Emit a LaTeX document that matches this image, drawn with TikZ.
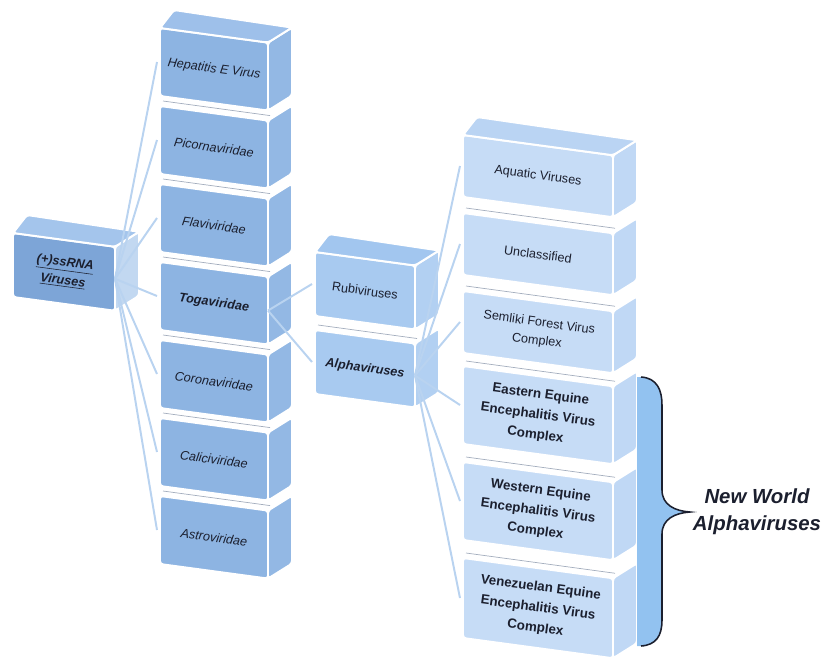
\documentclass[tikz,border=0pt]{standalone}
\usepackage{fontspec}
\setmainfont{Liberation Sans}
\usepackage{tikz}
\usetikzlibrary{calc}

\definecolor{rtfront}{HTML}{7DA5D7}
\definecolor{rttop}{HTML}{A4C5EC}
\definecolor{rtside}{HTML}{C2D8F1}
\definecolor{dkfront}{HTML}{8DB4E2}
\definecolor{dktop}{HTML}{9EC0EA}
\definecolor{dkside}{HTML}{93B8E4}
\definecolor{mdfront}{HTML}{A8CAF0}
\definecolor{mdtop}{HTML}{A2C6EF}
\definecolor{mdside}{HTML}{B2D0F2}
\definecolor{ltfront}{HTML}{C6DCF6}
\definecolor{lttop}{HTML}{BAD4F3}
\definecolor{ltside}{HTML}{C0D8F5}
\definecolor{linkblue}{HTML}{B9D3F0}
\definecolor{seamgrey}{HTML}{A3ADBD}
\definecolor{bracefill}{HTML}{92C2F0}
\definecolor{ink}{HTML}{1B1F2E}

\tikzset{
  face/.style={draw=white, line width=1.4pt, line join=round, rounded corners=2pt},
  rt front/.style={face, fill=rtfront}, rt top/.style={face, fill=rttop}, rt side/.style={face, fill=rtside},
  dk front/.style={face, fill=dkfront}, dk top/.style={face, fill=dktop}, dk side/.style={face, fill=dkside},
  md front/.style={face, fill=mdfront}, md top/.style={face, fill=mdtop}, md side/.style={face, fill=mdside},
  lt front/.style={face, fill=ltfront}, lt top/.style={face, fill=lttop}, lt side/.style={face, fill=ltside},
  boxtext/.style={text=ink, align=center, rotate=-7.7, inner sep=1pt},
  famtext/.style={boxtext, font=\fontsize{9}{13}\selectfont\itshape},
  keytext/.style={boxtext, font=\fontsize{9}{13}\selectfont\bfseries\itshape},
  plaintext/.style={boxtext, font=\fontsize{9}{13}\selectfont},
  complextext/.style={boxtext, font=\fontsize{9.5}{14.5}\selectfont\bfseries},
  link/.style={draw=linkblue, line width=1.4pt},
  seam/.style={draw=seamgrey, line width=0.5pt},
}

% box with a front face and a right side face
% #1 name, #2 x, #3 y, #4 width, #5 height, #6 palette, #7 text style, #8 text
\newcommand{\virusbox}[8]{%
  \pgfmathsetmacro{\boxdrop}{0.135*#4}
  \coordinate (#1-a) at (#2,#3);
  \coordinate (#1-b) at (#2+#4,#3+\boxdrop);
  \coordinate (#1-c) at (#2+#4,#3+#5+\boxdrop);
  \coordinate (#1-d) at (#2,#3+#5);
  \path[#6 side] (#1-b) -- ++(24,-15) -- ($(#1-c)+(24,-15)$) -- (#1-c) -- cycle;
  \path[#6 front] (#1-a) -- (#1-b) -- (#1-c) -- (#1-d) -- cycle;
  \node[#7] (#1) at ($(#1-a)!0.5!(#1-c)$) {#8};
  \coordinate (#1-w) at ($(#1-a)!0.5!(#1-d)+(-3,0)$);
  \coordinate (#1-e) at ($(#1-b)!0.5!(#1-c)$);
}
% top face of the box on top of a stack
\newcommand{\boxlid}[2]{%
  \path[#2 top] (#1-a) -- ++(14,-18) -- ($(#1-b)+(24,-15)$) -- (#1-b) -- cycle;
}
% thin edge seen in the gap above a stacked box
\newcommand{\boxseam}[1]{%
  \draw[seam] ($(#1-a)+(3,-5)$) -- ($(#1-b)+(2,-5)$);
}

\begin{document}
\begin{tikzpicture}[x=0.025cm, y=-0.025cm]
  \useasboundingbox (0,0) rectangle (824,667);

  % families
  \virusbox{hep}{160}{28}{108}{68}{dk}{famtext}{Hepatitis E Virus}
  \virusbox{pic}{160}{106}{108}{68}{dk}{famtext}{Picornaviridae}
  \virusbox{fla}{160}{184}{108}{68}{dk}{famtext}{Flaviviridae}
  \virusbox{tog}{160}{262}{108}{68}{dk}{keytext}{Togaviridae}
  \virusbox{cor}{160}{340}{108}{68}{dk}{famtext}{Coronaviridae}
  \virusbox{cal}{160}{418}{108}{68}{dk}{famtext}{Caliciviridae}
  \virusbox{ast}{160}{496}{108}{68}{dk}{famtext}{Astroviridae}
  \boxlid{hep}{dk}

  \virusbox{root}{13}{233}{102}{64}{rt}{keytext}{\underline{(+)ssRNA}\\\underline{Viruses}}
  \boxlid{root}{rt}

  % genera
  \virusbox{rub}{315}{252}{100}{64}{md}{plaintext}{Rubiviruses}
  \virusbox{alp}{315}{330}{100}{64}{md}{keytext}{Alphaviruses}
  \boxlid{rub}{md}

  % alphavirus groups
  \virusbox{aqu}{463}{135}{150}{62}{lt}{plaintext}{Aquatic Viruses}
  \virusbox{unc}{463}{213}{150}{62}{lt}{plaintext}{Unclassified}
  \virusbox{sem}{463}{291}{150}{62}{lt}{plaintext}{Semliki Forest Virus\\Complex}
  \virusbox{eee}{463}{366}{150}{78}{lt}{complextext}{Eastern Equine\\Encephalitis Virus\\Complex}
  \virusbox{wee}{463}{462}{150}{78}{lt}{complextext}{Western Equine\\Encephalitis Virus\\Complex}
  \virusbox{vee}{463}{558}{150}{80}{lt}{complextext}{Venezuelan Equine\\Encephalitis Virus\\Complex}
  \boxlid{aqu}{lt}

  \foreach \n in {pic,fla,tog,cor,cal,ast,alp,unc,sem,eee,wee,vee}
    {\boxseam{\n}}

  % connectors
  \foreach \n in {hep,pic,fla,tog,cor,cal,ast}
    \draw[link] (root-e) -- (\n-w);
  \foreach \n in {rub,alp}
    \draw[link] (tog-e) -- (\n-w);
  \foreach \n in {aqu,unc,sem,eee,wee,vee}
    \draw[link] (alp-e) -- (\n-w);

  % brace over the new world groups
  \fill[bracefill] (637,377) -- (641,377) .. controls (657,378) and (662,390) .. (662,405)
    -- (662,490) .. controls (662,505) and (675,511) .. (690,512)
    .. controls (675,513) and (662,519) .. (662,534)
    -- (662,620) .. controls (662,636) and (656,645) .. (641,646) -- (637,646) -- cycle;
  \draw[ink, line width=1.1pt] (641,377) .. controls (657,378) and (662,390) .. (662,405)
    -- (662,490) .. controls (662,505) and (675,511) .. (690,512)
    .. controls (675,513) and (662,519) .. (662,534)
    -- (662,620) .. controls (662,636) and (656,645) .. (641,646);
  \node[text=ink, align=center, font=\fontsize{14.5}{19}\selectfont\bfseries\itshape] (nwa) at (757,512) {New World\\Alphaviruses};
\end{tikzpicture}
\end{document}
